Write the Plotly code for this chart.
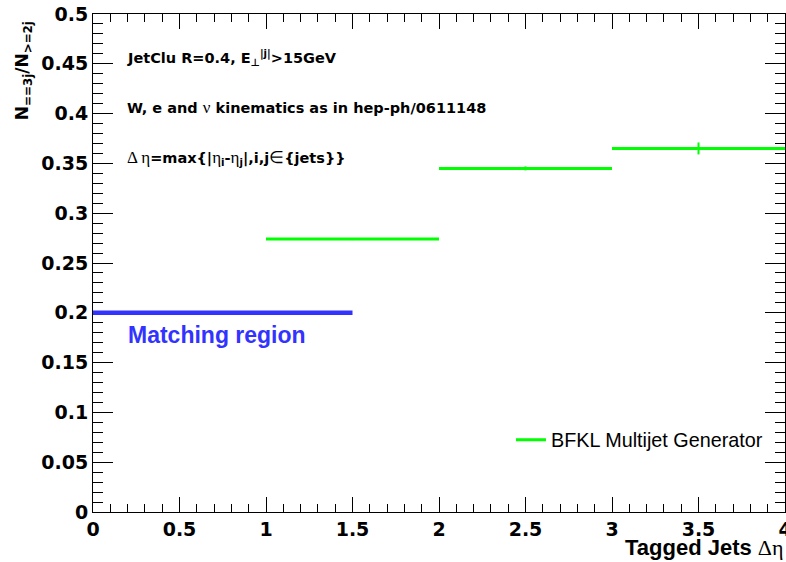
import plotly.graph_objects as go

# ---- data ----
bin_lo = [1.0, 2.0, 3.0]
bin_hi = [2.0, 3.0, 4.0]
ratio = [0.274, 0.345, 0.365]
ratio_err = [0.001, 0.002, 0.006]
series_name = "BFKL Multijet Generator"

match_lo = 0.0
match_hi = 1.5
match_val = 0.2

x_centers = [(a + b) / 2 for a, b in zip(bin_lo, bin_hi)]
x_half = [(b - a) / 2 for a, b in zip(bin_lo, bin_hi)]

GREEN = "#00ff00"
BLUE = "#3333ff"

fig = go.Figure()

fig.add_trace(go.Scatter(
    x=x_centers, y=ratio, mode="markers",
    marker=dict(size=1, color=GREEN, opacity=0),
    error_x=dict(type="data", array=x_half, symmetric=True, thickness=3, width=0, color=GREEN),
    error_y=dict(type="data", array=ratio_err, symmetric=True, thickness=2, width=0, color=GREEN),
    showlegend=False, hoverinfo="skip", cliponaxis=False,
))
fig.add_trace(go.Scatter(
    x=[None], y=[None], mode="lines", name=series_name,
    line=dict(color=GREEN, width=3),
))
fig.add_trace(go.Scatter(
    x=[match_lo, match_hi], y=[match_val, match_val], mode="lines",
    line=dict(color=BLUE, width=4.5), showlegend=False, hoverinfo="skip", cliponaxis=False,
))

tickfont = dict(family="DejaVu Sans", size=19, color="black", weight="bold")

fig.update_xaxes(
    range=[0, 4], dtick=0.5, tick0=0, ticks="inside", ticklen=15, tickwidth=1,
    tickcolor="black", minor=dict(dtick=0.1, ticklen=8, ticks="inside", tickcolor="black"),
    mirror="allticks", showline=True, linecolor="black", linewidth=1,
    showgrid=False, zeroline=False, tickfont=tickfont, automargin=False,
    ticklabeloverflow="allow", layer="below traces",
)
fig.update_yaxes(
    range=[0, 0.5], dtick=0.05, tick0=0, ticks="inside", ticklen=20, tickwidth=1,
    tickcolor="black", minor=dict(dtick=0.01, ticklen=10, ticks="inside", tickcolor="black"),
    mirror="allticks", showline=True, linecolor="black", linewidth=1,
    showgrid=False, zeroline=False, tickfont=tickfont, automargin=False,
    ticklabeloverflow="allow", layer="below traces",
)


def serif(s, size=17):
    return ("<span style='font-family:Liberation Serif;font-weight:normal;font-size:%dpx'>" % size
            + s + "</span>")


ann_font = dict(family="DejaVu Sans", size=14.5, color="black", weight="bold")
annotations = [
    dict(x=0.185, y=0.456, xref="x", yref="y", xanchor="left", yanchor="middle",
         text="JetClu R=0.4, E<sub>⊥</sub><sup>|j|</sup>>15GeV", font=ann_font, showarrow=False),
    dict(x=0.185, y=0.4066, xref="x", yref="y", xanchor="left", yanchor="middle",
         text="W, e and " + serif("ν") + " kinematics as in hep-ph/0611148",
         font=ann_font, showarrow=False),
    dict(x=0.185, y=0.355, xref="x", yref="y", xanchor="left", yanchor="middle",
         text=serif("Δ η") + "=max{|" + serif("η") + "<sub>i</sub>-" + serif("η")
         + "<sub>j</sub>|,i,j" + serif("∈") + "{jets}}",
         font=ann_font, showarrow=False),
    dict(x=0.19, y=0.178, xref="x", yref="y", xanchor="left", yanchor="middle",
         text="Matching region", showarrow=False,
         font=dict(family="Liberation Sans", size=23, color=BLUE, weight="bold")),
    dict(x=-0.1, y=0.99, xref="paper", yref="paper", xanchor="center", yanchor="top",
         textangle=-90, text="N<sub>==3j</sub>/N<sub>&gt;=2j</sub>", showarrow=False,
         font=dict(family="DejaVu Sans", size=17, color="black", weight="bold")),
    dict(x=1.0, y=-0.072, xref="paper", yref="paper", xanchor="right", yanchor="middle",
         xshift=1, text="Tagged Jets " + serif("Δη", 22), showarrow=False,
         font=dict(family="Liberation Sans", size=22, color="black", weight="bold")),
]

fig.update_layout(
    width=786, height=562,
    margin=dict(l=93, r=1, t=14, b=50, autoexpand=False),
    paper_bgcolor="white", plot_bgcolor="white",
    annotations=annotations,
    showlegend=True,
    legend=dict(x=0.604, y=0.145, xanchor="left", yanchor="middle",
                bgcolor="rgba(0,0,0,0)", borderwidth=0,
                font=dict(family="Liberation Sans", size=19.8, color="black")),
)

fig.write_html(
    "out.html",
    config={"displayModeBar": False},
    post_script="document.body.style.margin='0px';document.body.style.overflow='hidden';",
)
